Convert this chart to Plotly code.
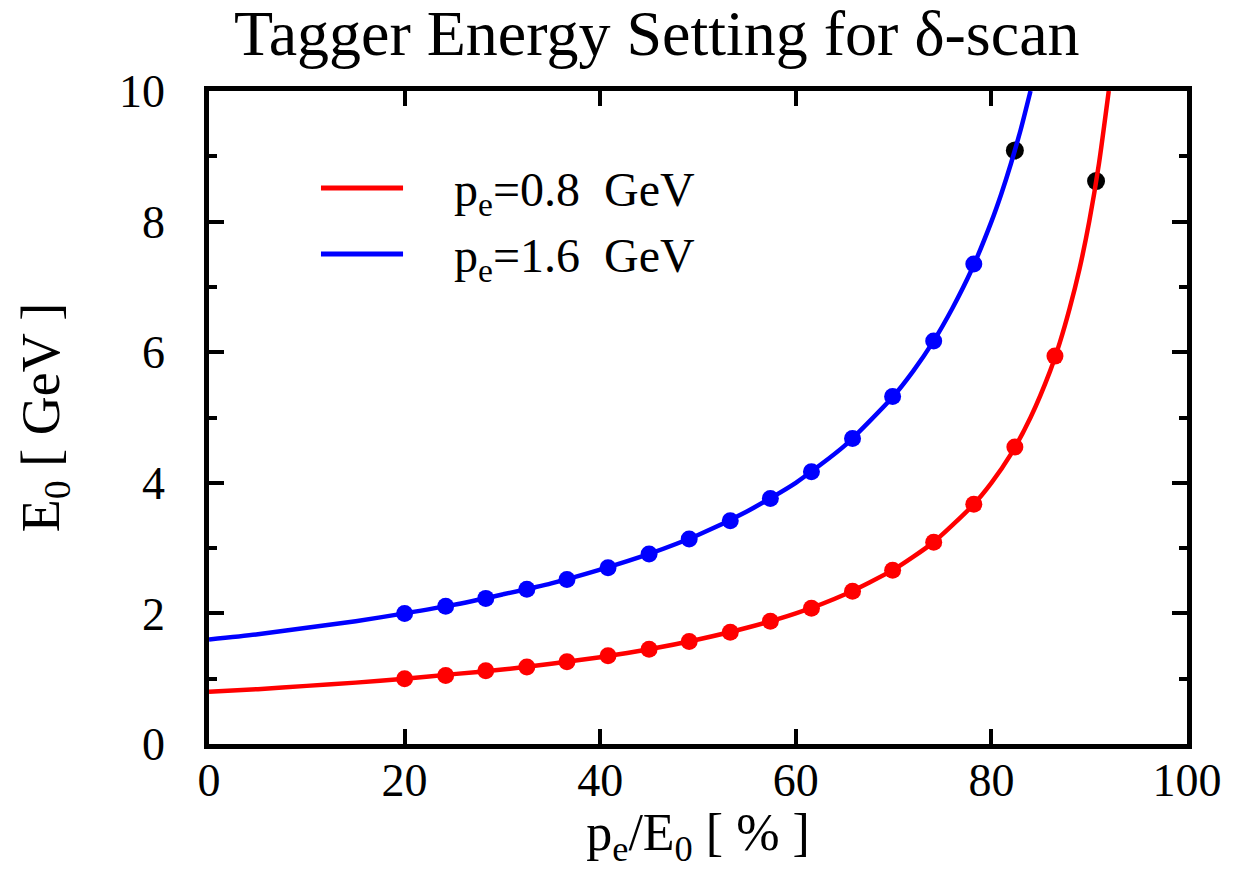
import plotly.graph_objects as go

# ---- data ----
curve_x_08 = [0, 5, 10, 15, 20, 25, 30, 35, 40, 45, 50, 55, 60, 65, 70, 74, 78, 80, 82, 84, 86, 87, 88, 89, 90, 91, 92]
curve_y_08 = [0.80, 0.84, 0.89, 0.94, 1.00, 1.07, 1.14, 1.23, 1.33, 1.45, 1.60, 1.78, 2.00, 2.29, 2.67, 3.08, 3.64,
              4.00, 4.44, 5.00, 5.71, 6.15, 6.67, 7.27, 8.00, 8.89, 10.0]

curve_x_16 = [0, 5, 10, 15, 20, 25, 30, 35, 40, 45, 50, 55, 60, 65, 70, 72, 74, 76, 78, 80, 81, 82, 83, 84]
curve_y_16 = [1.60, 1.68, 1.78, 1.88, 2.00, 2.13, 2.29, 2.46, 2.67, 2.91, 3.20, 3.56, 4.00, 4.57, 5.33, 5.71,
              6.15, 6.67, 7.27, 8.00, 8.42, 8.89, 9.41, 10.0]

pts_x_08 = [20.0, 24.2, 28.3, 32.5, 36.6, 40.8, 45.0, 49.1, 53.3, 57.4, 61.6, 65.8, 69.9, 74.1, 78.2, 82.4, 86.5]
pts_y_08 = [1.00, 1.05, 1.12, 1.18, 1.26, 1.35, 1.45, 1.57, 1.71, 1.88, 2.08, 2.34, 2.66, 3.09, 3.67, 4.55, 5.94]

pts_x_16 = [20.0, 24.2, 28.3, 32.5, 36.6, 40.8, 45.0, 49.1, 53.3, 57.4, 61.6, 65.8, 69.9, 74.1, 78.2]
pts_y_16 = [2.00, 2.11, 2.23, 2.37, 2.52, 2.70, 2.91, 3.14, 3.42, 3.76, 4.17, 4.68, 5.32, 6.17, 7.35]

black_x = [82.4, 90.7]
black_y = [9.09, 8.62]

legend_labels = ["p<sub>e</sub>=0.8\u00a0 GeV", "p<sub>e</sub>=1.6\u00a0 GeV"]
x_ticks = [0, 20, 40, 60, 80, 100]
y_ticks = [0, 2, 4, 6, 8, 10]

RED = "#ff0000"
BLUE = "#0000ff"
FONT = "Liberation Serif"

fig = go.Figure()
fig.add_trace(go.Scatter(x=black_x, y=black_y, mode="markers",
                         marker=dict(color="black", size=18), showlegend=False))
fig.add_trace(go.Scatter(x=curve_x_08, y=curve_y_08, mode="lines",
                         line=dict(color=RED, width=4.5, shape="spline", smoothing=0.6), showlegend=False))
fig.add_trace(go.Scatter(x=curve_x_16, y=curve_y_16, mode="lines",
                         line=dict(color=BLUE, width=4.5, shape="spline", smoothing=0.6), showlegend=False))
fig.add_trace(go.Scatter(x=pts_x_08, y=pts_y_08, mode="markers",
                         marker=dict(color=RED, size=17), showlegend=False))
fig.add_trace(go.Scatter(x=pts_x_16, y=pts_y_16, mode="markers",
                         marker=dict(color=BLUE, size=17), showlegend=False))

axis_common = dict(showline=True, linecolor="black", linewidth=4.5, mirror="ticks",
                   ticks="inside", ticklen=15, tickwidth=4, tickcolor="black",
                   showgrid=False, zeroline=False,
                   tickfont=dict(family=FONT, size=46, color="black"))

fig.update_xaxes(range=[0, 100], tickvals=x_ticks, ticklabelstandoff=-8,
                 title=dict(text="p<sub>e</sub>/E<sub>0</sub> [ % ]",
                            font=dict(family=FONT, size=52, color="black"), standoff=20),
                 **axis_common)
fig.update_yaxes(range=[0, 10], tickvals=y_ticks, ticklabelstandoff=30,
                 minor=dict(dtick=1, ticks="inside", ticklen=8, tickwidth=4, tickcolor="black", showgrid=False),
                 title=dict(text="E<sub>0</sub> [ GeV ]",
                            font=dict(family=FONT, size=54, color="black"), standoff=44),
                 **axis_common)

# legend drawn manually
leg_y = [0.8515, 0.7504]
leg_colors = [RED, BLUE]
for yy, cc, lab in zip(leg_y, leg_colors, legend_labels):
    fig.add_shape(type="line", xref="paper", yref="paper", x0=0.1145, x1=0.1984, y0=yy, y1=yy,
                  line=dict(color=cc, width=5))
    fig.add_annotation(xref="paper", yref="paper", x=0.2485, y=yy, xanchor="left", yanchor="middle",
                       yshift=-5, text=lab, showarrow=False, font=dict(family=FONT, size=48, color="black"))

fig.add_annotation(xref="paper", yref="paper", x=0.458, y=1.0, xanchor="center", yanchor="bottom",
                   yshift=20, text="Tagger Energy Setting for δ-scan", showarrow=False,
                   font=dict(family=FONT, size=64, color="black"))

fig.update_layout(width=1226, height=861, margin=dict(l=201, r=47, t=83, b=125, autoexpand=False),
                  plot_bgcolor="white", paper_bgcolor="white", showlegend=False)

fig.write_html("out.html")
